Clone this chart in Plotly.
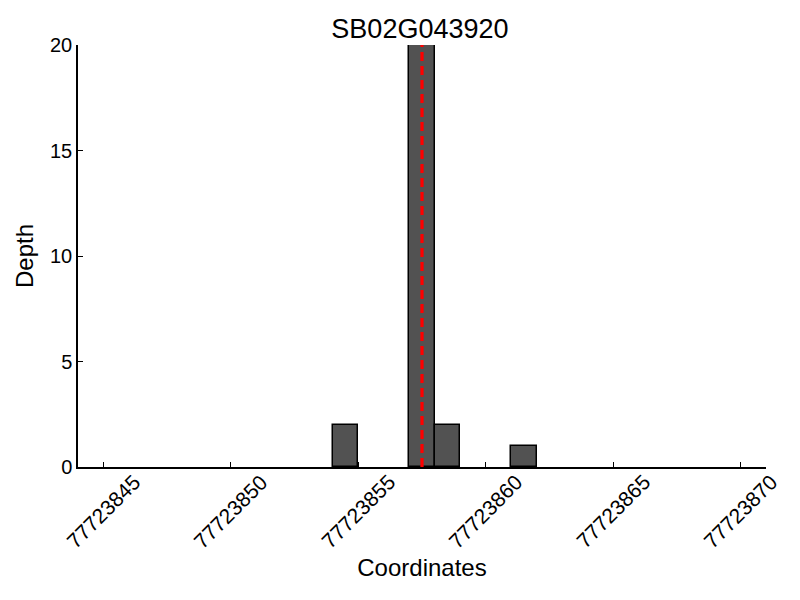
import plotly.graph_objects as go

bin_starts = [77723854, 77723857, 77723858, 77723861]
depths = [2, 20, 2, 1]
marker_pos = 77723857.5
x_ticks = [77723845, 77723850, 77723855, 77723860, 77723865, 77723870]
y_ticks = [0, 5, 10, 15, 20]
title = "SB02G043920"

fig = go.Figure()
fig.add_trace(go.Bar(
    x=bin_starts, y=depths, width=1, offset=0,
    marker=dict(color="#525252", line=dict(color="black", width=1.5)),
    showlegend=False,
))
fig.add_shape(type="line", x0=marker_pos, x1=marker_pos, y0=0, y1=20,
              xref="x", yref="y",
              line=dict(color="red", width=3.2, dash="9px,5px"))

font = "Liberation Sans, Arial, sans-serif"
for v in x_ticks:
    fig.add_annotation(x=v, y=0, xref="x", yref="paper", text=str(v),
                       textangle=-45, showarrow=False, xanchor="center",
                       yanchor="top", yshift=-1,
                       font=dict(family=font, size=21, color="black"))

fig.update_layout(
    width=800, height=600,
    plot_bgcolor="white", paper_bgcolor="white",
    margin=dict(l=70, r=42, t=37, b=141),
    title=dict(text=title, xref="paper", x=0.497, xanchor="center",
               y=0.965, yanchor="middle",
               font=dict(family=font, size=27, color="black")),
    font=dict(family=font, color="black"),
    bargap=0,
)
fig.update_xaxes(
    range=[77723844, 77723871], tickvals=x_ticks, showticklabels=False,
    ticks="inside", ticklen=5, tickcolor="black",
    showline=True, linecolor="black", linewidth=1.5, mirror=False,
    showgrid=False, zeroline=False, automargin=False,
    title=dict(text="Coordinates", font=dict(size=24), standoff=91),
)
fig.update_yaxes(
    range=[0, 20], tickvals=y_ticks,
    ticks="inside", ticklen=5, tickcolor="black",
    showline=True, linecolor="black", linewidth=1.5,
    showgrid=False, zeroline=False, automargin=False,
    tickfont=dict(size=20),
    title=dict(text="Depth", font=dict(size=24), standoff=10),
)
fig.write_html("out.html")
